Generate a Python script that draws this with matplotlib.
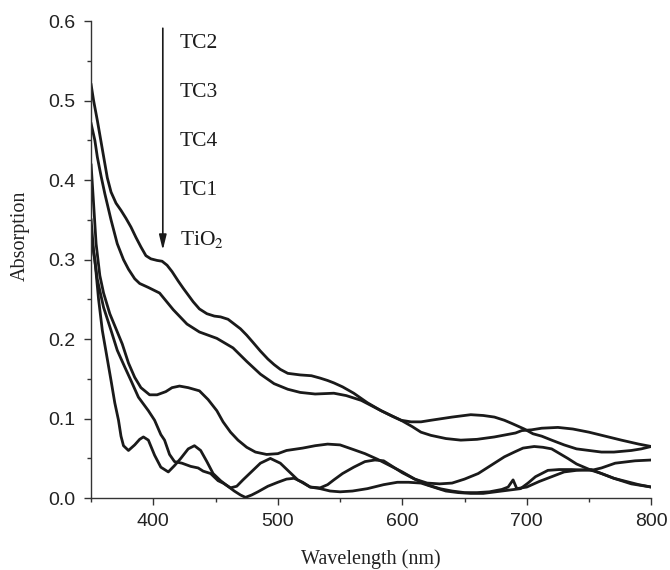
import matplotlib
matplotlib.use('Agg')
import matplotlib.pyplot as plt
from matplotlib.ticker import MultipleLocator

# absorption spectra (wavelength in nm)
wl_tc2 = [350, 352, 355, 358, 361, 363, 366, 370, 374, 378, 382, 386, 390, 394, 398, 403,
          407, 411, 415, 420, 424, 432, 437, 443, 449, 454, 460, 465, 470, 475, 480, 486,
          492, 497, 502, 508, 518, 527, 534, 540, 545, 552, 561, 572, 583, 592, 599, 608,
          615, 623, 635, 647, 660, 674, 691, 696, 704, 712, 725, 737, 750, 763, 776, 790, 800]
abs_tc2 = [0.520, 0.500, 0.475, 0.448, 0.421, 0.403, 0.385, 0.371, 0.362, 0.352, 0.341, 0.328,
           0.316, 0.305, 0.301, 0.299, 0.298, 0.293, 0.285, 0.273, 0.264, 0.247, 0.238, 0.232,
           0.229, 0.228, 0.225, 0.219, 0.213, 0.205, 0.196, 0.185, 0.175, 0.168, 0.162, 0.157,
           0.155, 0.154, 0.151, 0.148, 0.145, 0.140, 0.132, 0.120, 0.110, 0.103, 0.098, 0.090,
           0.083, 0.079, 0.075, 0.073, 0.074, 0.077, 0.082, 0.085, 0.086, 0.088, 0.089, 0.087,
           0.083, 0.078, 0.073, 0.068, 0.065]

wl_tc3 = [350, 353, 355, 358, 361, 366, 371, 376, 380, 385, 389, 396, 405, 416, 427, 437,
          451, 464, 475, 486, 497, 508, 518, 530, 545, 555, 567, 583, 599, 607, 615, 623,
          640, 655, 665, 674, 682, 688, 698, 705, 712, 720, 730, 740, 750, 760, 770, 784, 792, 800]
abs_tc3 = [0.471, 0.450, 0.429, 0.405, 0.383, 0.350, 0.320, 0.300, 0.288, 0.276, 0.270, 0.265,
           0.258, 0.237, 0.219, 0.209, 0.201, 0.189, 0.172, 0.156, 0.144, 0.137, 0.133, 0.131,
           0.132, 0.129, 0.123, 0.110, 0.098, 0.096, 0.096, 0.098, 0.102, 0.105, 0.104, 0.102,
           0.098, 0.094, 0.087, 0.081, 0.078, 0.073, 0.067, 0.062, 0.060, 0.058, 0.058, 0.060,
           0.062, 0.065]

wl_tc4 = [350, 352, 354, 357, 360, 365, 370, 375, 380, 385, 390, 397, 403, 410, 415, 421,
          428, 437, 444, 451, 456, 462, 468, 475, 482, 491, 500, 507, 520, 530, 540, 550,
          561, 570, 580, 590, 600, 610, 620, 630, 640, 650, 660, 670, 680, 685, 689, 692,
          700, 710, 720, 730, 740, 752, 760, 770, 780, 790, 800]
abs_tc4 = [0.419, 0.370, 0.320, 0.280, 0.258, 0.232, 0.213, 0.194, 0.170, 0.152, 0.139, 0.130,
           0.130, 0.134, 0.139, 0.141, 0.139, 0.135, 0.124, 0.110, 0.096, 0.083, 0.073, 0.064,
           0.058, 0.055, 0.056, 0.060, 0.063, 0.066, 0.068, 0.067, 0.061, 0.056, 0.049, 0.041,
           0.033, 0.024, 0.017, 0.012, 0.009, 0.007, 0.007, 0.008, 0.011, 0.014, 0.023, 0.012,
           0.014, 0.021, 0.027, 0.033, 0.035, 0.036, 0.031, 0.025, 0.021, 0.017, 0.014]

wl_tc1 = [350, 352, 355, 360, 366, 371, 377, 382, 388, 396, 401, 406, 409, 413, 417, 423,
          430, 436, 440, 446, 452, 456, 462, 467, 472, 480, 486, 494, 502, 510, 516, 526,
          534, 540, 545, 552, 561, 570, 578, 585, 592, 600, 610, 620, 630, 640, 650, 661,
          672, 682, 690, 697, 706, 713, 720, 733, 740, 752, 760, 770, 784, 800]
abs_tc1 = [0.350, 0.310, 0.275, 0.240, 0.211, 0.186, 0.165, 0.148, 0.127, 0.110, 0.098, 0.080,
           0.073, 0.055, 0.046, 0.044, 0.040, 0.038, 0.034, 0.031, 0.022, 0.019, 0.013, 0.015,
           0.023, 0.035, 0.044, 0.050, 0.044, 0.032, 0.023, 0.014, 0.013, 0.017, 0.023, 0.031,
           0.039, 0.046, 0.048, 0.047, 0.040, 0.032, 0.024, 0.019, 0.018, 0.019, 0.024, 0.031,
           0.042, 0.052, 0.058, 0.063, 0.065, 0.064, 0.062, 0.050, 0.043, 0.035, 0.031, 0.025,
           0.018, 0.014]

wl_tio2 = [350, 353, 356, 359, 363, 366, 369, 372, 374, 376, 380, 385, 389, 392, 396, 401,
           406, 412, 417, 422, 428, 433, 438, 443, 448, 454, 459, 465, 470, 474, 479, 484,
           492, 500, 507, 513, 520, 526, 534, 542, 550, 560, 572, 585, 596, 605, 615, 625,
           635, 645, 655, 665, 675, 685, 695, 701, 707, 717, 726, 736, 752, 760, 771, 787, 800]
abs_tio2 = [0.330, 0.300, 0.250, 0.211, 0.175, 0.148, 0.120, 0.098, 0.078, 0.066, 0.060, 0.067,
            0.074, 0.077, 0.073, 0.054, 0.039, 0.033, 0.041, 0.050, 0.062, 0.066, 0.060, 0.046,
            0.031, 0.022, 0.016, 0.009, 0.004, 0.001, 0.004, 0.008, 0.015, 0.020, 0.024, 0.025,
            0.020, 0.014, 0.012, 0.009, 0.008, 0.009, 0.012, 0.017, 0.020, 0.020, 0.019, 0.014,
            0.009, 0.007, 0.006, 0.006, 0.008, 0.010, 0.012, 0.019, 0.027, 0.035, 0.036, 0.036,
            0.035, 0.038, 0.044, 0.047, 0.048]

curves = [(wl_tc2, abs_tc2), (wl_tc3, abs_tc3), (wl_tc4, abs_tc4),
          (wl_tc1, abs_tc1), (wl_tio2, abs_tio2)]
labels = ['TC2', 'TC3', 'TC4', 'TC1', r'TiO$_2$']
label_y = [0.572, 0.510, 0.448, 0.387, 0.325]

plt.rcParams['mathtext.fontset'] = 'stix'

fig = plt.figure(figsize=(6.7, 5.7), dpi=100)
ax = fig.add_axes([0.136, 0.126, 0.836, 0.837])

for wl, a in curves:
    ax.plot(wl, a, color='#1a1a1a', lw=2.0, solid_joinstyle='round')

# arrow + sample names
ax.annotate('', xy=(407.6, 0.312), xytext=(407.6, 0.591),
            arrowprops=dict(arrowstyle='-|>,head_length=0.9,head_width=0.22',
                            color='#1a1a1a', lw=1.2, shrinkA=0, shrinkB=0))
for lab, y in zip(labels, label_y):
    ax.text(421.5, y, lab, ha='left', va='center', fontsize=15.5,
            family='Liberation Serif', color='#1a1a1a')

ax.set_xlim(350, 800)
ax.set_ylim(0, 0.6)
ax.xaxis.set_major_locator(MultipleLocator(100))
ax.xaxis.set_minor_locator(MultipleLocator(50))
ax.yaxis.set_major_locator(MultipleLocator(0.1))
ax.yaxis.set_minor_locator(MultipleLocator(0.05))
ax.yaxis.set_major_formatter(matplotlib.ticker.FormatStrFormatter('%.1f'))

for s in ['top', 'right']:
    ax.spines[s].set_visible(False)
for s in ['left', 'bottom']:
    ax.spines[s].set_linewidth(1.0)
    ax.spines[s].set_color('#333333')

ax.tick_params(which='major', direction='out', length=5, width=1.0, color='#333333',
               labelsize=14, labelcolor='#222222', pad=6)
ax.tick_params(which='minor', direction='out', length=3, width=1.0, color='#333333')
for t in ax.get_xticklabels() + ax.get_yticklabels():
    t.set_family('Liberation Sans')

ax.set_xlabel('Wavelength (nm)', fontsize=14.5, family='Liberation Serif', color='#222222',
              va='center')
ax.set_ylabel('Absorption', fontsize=14.5, family='Liberation Serif', color='#222222',
              va='center')
ax.xaxis.set_label_coords(0.5, -0.127)
ax.yaxis.set_label_coords(-0.127, 0.549)

fig.savefig('out.png', dpi=100)
